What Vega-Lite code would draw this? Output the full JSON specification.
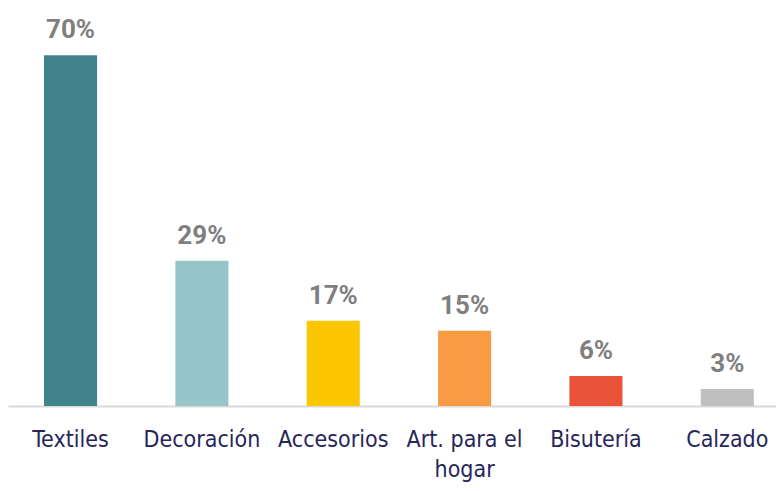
{
  "$schema": "https://vega.github.io/schema/vega-lite/v6.json",
  "autosize": "none",
  "width": 768,
  "height": 406,
  "padding": {"left": 8, "top": 0, "right": 0, "bottom": 85},
  "background": "white",
  "config": {"view": {"stroke": null}},
  "data": {
    "values": [
      {"categoria": "Textiles", "valor": 70, "etiqueta": "70%", "color": "#41838B"},
      {"categoria": "Decoración", "valor": 29, "etiqueta": "29%", "color": "#96C5C9"},
      {"categoria": "Accesorios", "valor": 17, "etiqueta": "17%", "color": "#FCC700"},
      {"categoria": "Art. para el hogar", "valor": 15, "etiqueta": "15%", "color": "#F89B43"},
      {"categoria": "Bisutería", "valor": 6, "etiqueta": "6%", "color": "#E8533A"},
      {"categoria": "Calzado", "valor": 3.4, "etiqueta": "3%", "color": "#BFBFBF"}
    ]
  },
  "encoding": {
    "x": {
      "field": "categoria",
      "type": "nominal",
      "sort": null,
      "scale": {"paddingInner": 0.596, "paddingOuter": 0.2215, "align": 0.619},
      "axis": {
        "title": null,
        "ticks": false,
        "labelAngle": 0,
        "labelFont": "DejaVu Sans Condensed, Liberation Sans Narrow, Roboto, sans-serif",
        "labelFontSize": 23,
        "labelColor": "#262659",
        "labelPadding": 22,
        "labelLineHeight": 30,
        "labelBaseline": "top",
        "labelLimit": 0,
        "labelOverlap": false,
        "labelExpr": "datum.label == 'Art. para el hogar' ? ['Art. para el', 'hogar'] : datum.label",
        "domainColor": "#D9D9D9",
        "domainWidth": 2
      }
    },
    "y": {
      "field": "valor",
      "type": "quantitative",
      "scale": {"domain": [0, 81]},
      "axis": null
    }
  },
  "layer": [
    {
      "mark": {"type": "bar"},
      "encoding": {
        "color": {"field": "color", "type": "nominal", "scale": null}
      }
    },
    {
      "mark": {
        "type": "text",
        "baseline": "alphabetic",
        "dy": -17,
        "font": "Roboto, sans-serif",
        "fontWeight": "bold",
        "fontSize": 26,
        "fill": "#7F7F7F"
      },
      "encoding": {
        "text": {"field": "etiqueta"}
      }
    }
  ]
}
